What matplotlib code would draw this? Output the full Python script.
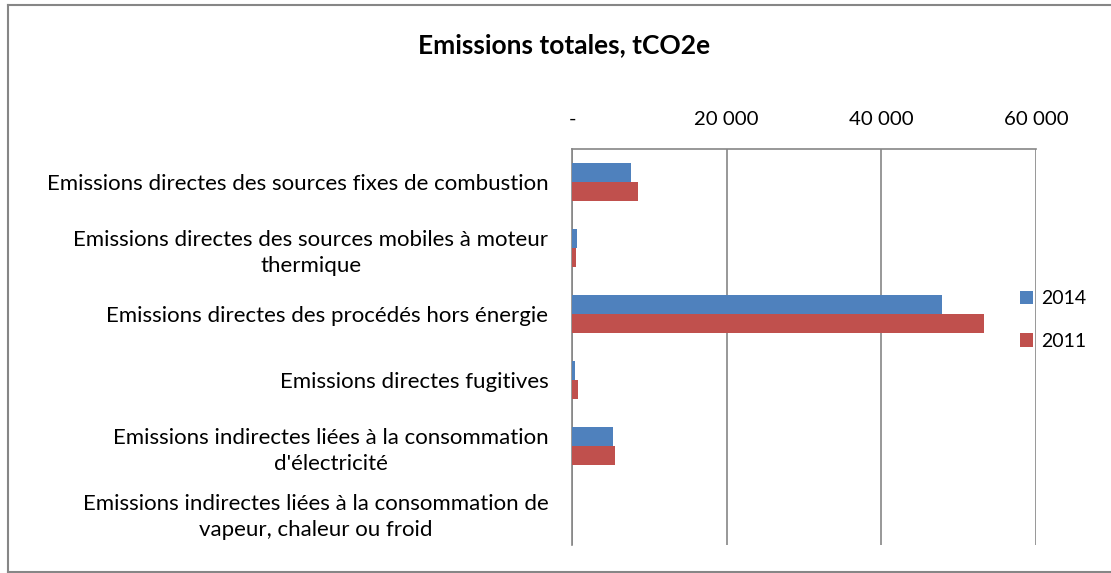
import matplotlib.pyplot as plt
from matplotlib.lines import Line2D
import numpy as np

plt.rcParams["font.family"] = ["Lato", "DejaVu Sans"]

categories = [
    "Emissions directes des sources fixes de combustion",
    "Emissions directes des sources mobiles à moteur\nthermique",
    "Emissions directes des procédés hors énergie",
    "Emissions directes fugitives",
    "Emissions indirectes liées à la consommation\nd'électricité",
    "Emissions indirectes liées à la consommation de\nvapeur, chaleur ou froid",
]
values_2014 = [7670, 600, 47880, 390, 5260, 0]
values_2011 = [8490, 480, 53300, 820, 5600, 0]
xticks = [0, 20000, 40000, 60000]
xtick_labels = ["-", "20 000", "40 000", "60 000"]

grey = "#868686"
blue = "#4F81BD"
red = "#C0504D"

fig = plt.figure(figsize=(11.11, 5.73), dpi=100)
ax = fig.add_axes([572 / 1111, 1 - 545 / 573, (1036 - 572) / 1111, (545 - 149) / 573])

y = np.arange(len(categories))
h = 0.29
ax.barh(y - h / 2, values_2014, height=h, color=blue, label="2014", zorder=3)
ax.barh(y + h / 2, values_2011, height=h, color=red, label="2011", zorder=3)

ax.set_xlim(0, 60000)
ax.set_ylim(len(categories) - 0.5, -0.5)
ax.set_xticks(xticks)
ax.set_xticklabels(xtick_labels, fontsize=14.7)
ax.xaxis.tick_top()
ax.tick_params(axis="x", length=0, pad=15)
ax.set_yticks(y)
ax.set_yticklabels(categories, fontsize=16, multialignment="center", linespacing=1.4)
ax.tick_params(axis="y", length=0, pad=17)

ax.grid(axis="x", color=grey, linewidth=1.2, zorder=0)
for side in ["right", "bottom"]:
    ax.spines[side].set_visible(False)
for side in ["left", "top"]:
    ax.spines[side].set_color(grey)
    ax.spines[side].set_linewidth(1.2)

fig.text(564 / 1111, 1 - 45 / 573, "Emissions totales, tCO2e", ha="center", va="center",
         fontsize=19, fontweight="bold")

ax.legend(loc="center left", bbox_to_anchor=(1012 / 1111, 1 - 320 / 573),
          bbox_transform=fig.transFigure, frameon=False, fontsize=14,
          handlelength=0.7, handleheight=0.7, handletextpad=0.4, labelspacing=1.3,
          borderaxespad=0)

# outer chart border (left, top, bottom)
bx, by0, by1 = 7.5 / 1111, 1 - 572 / 573, 1 - 4.5 / 573
for xs, ys in [([bx, bx], [by0, by1]), ([bx, 1.01], [by1, by1]), ([bx, 1.01], [by0, by0])]:
    fig.add_artist(Line2D(xs, ys, transform=fig.transFigure, color=grey, linewidth=1.5))

fig.savefig("out.png", dpi=100)
